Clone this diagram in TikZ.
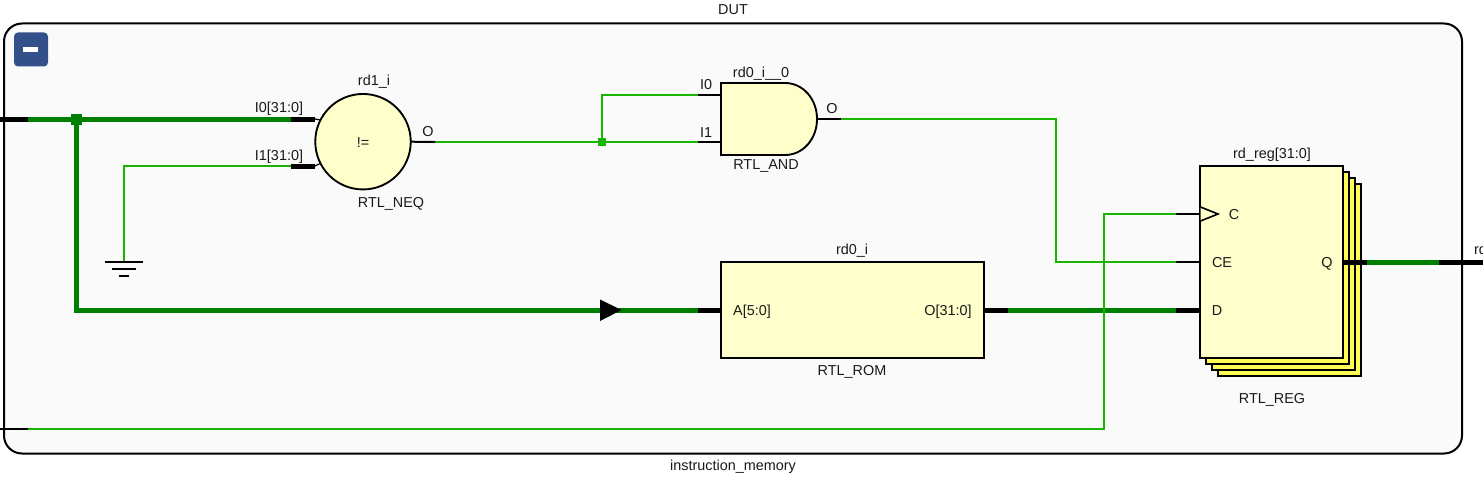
\documentclass[tikz,border=0pt]{standalone}
\usepackage{fontspec}
\setmainfont{Liberation Sans}
\definecolor{busgreen}{HTML}{008000}
\definecolor{netgreen}{HTML}{18B400}
\definecolor{cellfill}{HTML}{FFFFCC}
\definecolor{stackfill}{HTML}{FFFF55}
\definecolor{framefill}{HTML}{FAFAFA}
\definecolor{btnblue}{HTML}{34508A}
\tikzset{
  lbl/.style={inner sep=0pt,outer sep=0pt,yshift=-1.1pt,font=\fontsize{10.8pt}{12pt}\selectfont,text height=7.6pt,text depth=2pt,text=black!90},
  cell/.style={draw=black,line width=1.4pt,fill=cellfill,inner sep=0pt,outer sep=0pt},
  stack/.style={cell,fill=stackfill,minimum width=107.25pt,minimum height=144pt},
  bus/.style={draw=busgreen,line width=3.75pt},
  net/.style={draw=netgreen,line width=1.65pt},
  busstub/.style={draw=black,line width=3.75pt},
  netstub/.style={draw=black,line width=1.5pt},
  tie/.style={draw=black,line width=.9pt},
  junction/.style={inner sep=0pt,outer sep=0pt,minimum size=#1,rectangle}
}
\begin{document}
\begin{tikzpicture}[x=.75pt,y=-.75pt]
\useasboundingbox (0,0) rectangle (1483,478);
% frame
\draw[fill=framefill,draw=black,line width=1.5pt,rounded corners=13.5pt] (4,23.5) rectangle (1462,453.5);
\node[lbl] (dutlabel) at (733,9) {DUT};
\node[lbl] (modlabel) at (733,465.5) {instruction\_memory};
% collapse button
\node[fill=btnblue,rounded corners=3pt,minimum width=25.5pt,minimum height=25.5pt,inner sep=0pt] (btn) at (31,49.5) {};
\node[fill=white,minimum width=11.25pt,minimum height=4.2pt,inner sep=0pt] (btnbar) at (30.5,49.5) {};
% blocks
\node[cell,circle,minimum size=71.6pt] (neq) at (363,141.7) {};
\node[minimum width=72pt,minimum height=54pt,inner sep=0pt,outer sep=0pt] (andgate) at (769,119) {};
\draw[cell] (721,83) -- (785,83) .. controls (803,83) and (817,99) .. (817,119) .. controls (817,139) and (803,155) .. (785,155) -- (721,155) -- cycle;
\node[cell,minimum width=197.25pt,minimum height=72pt] (rom) at (852.5,310) {};
\node[stack] (stackc) at (1289.5,280) {};
\node[stack] (stackb) at (1283.5,274) {};
\node[stack] (stacka) at (1277.5,268) {};
\node[cell,minimum width=107.25pt,minimum height=144pt] (reg) at (1271.5,262) {};
% pin coordinates
\coordinate (inL) at (0,119);
\coordinate (inG) at (28,119);
\coordinate (clkL) at (0,429);
\coordinate (clkG) at (28,429);
\coordinate (fork) at (76,119);
\coordinate (busbend) at (76,310);
\coordinate (i0G) at (291,119);
\coordinate (i0E) at (315,119);
\coordinate (i1G) at (291,166);
\coordinate (i1E) at (315,166);
\coordinate (gnd) at (124,262);
\coordinate (i1bend) at (124,166);
\coordinate (neqO) at (neq.east);
\coordinate (neqG) at (435,142);
\coordinate (tap) at (602,142);
\coordinate (tapup) at (602,95);
\coordinate (andI0G) at (698,95);
\coordinate (andI0) at (721,95);
\coordinate (andI1G) at (698,142);
\coordinate (andI1) at (721,142);
\coordinate (andO) at (817,119);
\coordinate (andG) at (841,119);
\coordinate (ceA) at (1056,119);
\coordinate (ceB) at (1056,262);
\coordinate (ceG) at (1176,262);
\coordinate (ceP) at (1200,262);
\coordinate (romAG) at (698,310);
\coordinate (romOG) at (1008,310);
\coordinate (dG) at (1176,310);
\coordinate (dP) at (1200,310);
\coordinate (cG) at (1176,214);
\coordinate (cP) at (1200,214);
\coordinate (cA) at (1104,214);
\coordinate (cB) at (1104,429);
\coordinate (qP) at (1343,262);
\coordinate (qG) at (1367,262);
\coordinate (outG) at (1439,262);
\coordinate (outR) at (1483,262);
% nets
\draw[bus] (inG) -- (i0G);
\draw[bus] (fork) -- (busbend) -- (romAG);
\draw[bus] (romOG) -- (dG);
\draw[bus] (qG) -- (outG);
\draw[net] (i1G) -- (i1bend) -- (gnd);
\draw[net] (neqG) -- (andI1G);
\draw[net] (tap) -- (tapup) -- (andI0G);
\draw[net] (andG) -- (ceA) -- (ceB) -- (ceG);
\draw[net] (cG) -- (cA) -- (cB) -- (clkG);
% pin stubs
\draw[busstub] (inL) -- (inG);
\draw[busstub] (i0G) -- (i0E);
\draw[busstub] (i1G) -- (i1E);
\draw[busstub] (romAG) -- (rom.west);
\draw[busstub] (rom.east) -- (romOG);
\draw[busstub] (dG) -- (dP);
\draw[busstub] (qP) -- (qG);
\draw[busstub] (outG) -- (outR);
\draw[netstub] (clkL) -- (clkG);
\draw[netstub] (neqO) -- (neqG);
\draw[netstub] (andI0G) -- (andI0);
\draw[netstub] (andI1G) -- (andI1);
\draw[netstub] (andO) -- (andG);
\draw[netstub] (ceG) -- (ceP);
\draw[netstub] (cG) -- (cP);
\draw[tie] (i0E) -- (neq.153);
\draw[tie] (i1E) -- (neq.207);
% junctions
\node[junction=8.25pt,fill=busgreen] (forkdot) at (fork) {};
\node[junction=6pt,fill=netgreen] (tapdot) at (tap) {};
% ground
\draw[netstub] (105,262) -- (143,262);
\draw[netstub] (112,269) -- (136,269);
\draw[netstub] (119,276) -- (129,276);
% arrowhead on bus
\fill[black] (600,299.5) -- (621.5,310) -- (600,321) -- cycle;
% clock
\draw[black,line width=1.2pt,fill=cellfill] (1200.5,207) -- (1218,214) -- (1200.5,221);
% labels
\node[lbl] (neqname) at (374,80.5) {rd1\_i};
\node[lbl] (neqtype) at (391,202) {RTL\_NEQ};
\node[lbl] (neqi0) at (279,107.5) {I0[31:0]};
\node[lbl] (neqi1) at (279,155.5) {I1[31:0]};
\node[lbl] (neqop) at (363,142) {!=};
\node[lbl] (neqo) at (428,131) {O};
\node[lbl] (andname) at (761,72.5) {rd0\_i\_\_0};
\node[lbl] (andtype) at (766,164) {RTL\_AND};
\node[lbl] (andi0) at (706,84.5) {I0};
\node[lbl] (andi1) at (706,132) {I1};
\node[lbl] (ando) at (832,108) {O};
\node[lbl] (romname) at (852,249) {rd0\_i};
\node[lbl] (romtype) at (852,370) {RTL\_ROM};
\node[lbl] (roma) at (752,310) {A[5:0]};
\node[lbl] (romo) at (948,310) {O[31:0]};
\node[lbl] (regname) at (1272,153.5) {rd\_reg[31:0]};
\node[lbl] (regtype) at (1272,398) {RTL\_REG};
\node[lbl] (regclk) at (1234,214) {C};
\node[lbl] (regce) at (1222,262) {CE};
\node[lbl] (regd) at (1217,310) {D};
\node[lbl] (regq) at (1327,262) {Q};
\node[lbl,anchor=west] (outname) at (1474,249) {rd};
\end{tikzpicture}
\end{document}
